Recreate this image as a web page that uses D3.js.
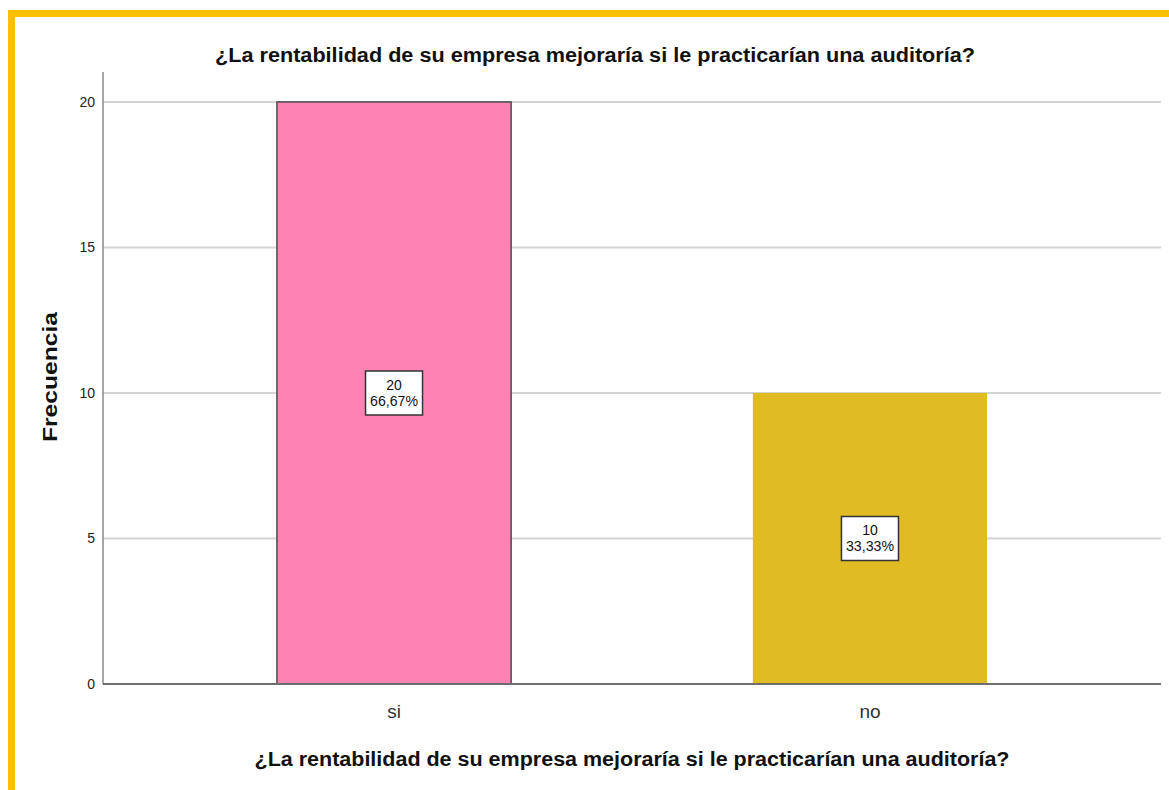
<!DOCTYPE html>
<html>
<head>
<meta charset="utf-8">
<script src="https://cdn.jsdelivr.net/npm/d3@7"></script>
<style>
  html, body { margin: 0; padding: 0; background: #fff; }
  svg { display: block; }
  text { font-family: "Liberation Sans", Arial, sans-serif; }
</style>
</head>
<body>
<svg id="chart" width="1169" height="790"></svg>
<script>
// Survey answers and their frequencies
const categories = ["si", "no"];
const counts = [20, 10];
const percentLabels = ["66,67%", "33,33%"];
const barColors = ["#FF82B4", "#E0BB22"];
const yTicks = [0, 5, 10, 15, 20];
const chartTitle = "¿La rentabilidad de su empresa mejoraría si le practicarían una auditoría?";
const xTitle = "¿La rentabilidad de su empresa mejoraría si le practicarían una auditoría?";
const yTitle = "Frecuencia";

const svg = d3.select("#chart");
const W = 1169, H = 790;

// Frame: orange-yellow band along top and left edges
svg.append("rect").attr("x", 8).attr("y", 10).attr("width", W - 8).attr("height", 7).attr("fill", "#FFC000");
svg.append("rect").attr("x", 8).attr("y", 10).attr("width", 7).attr("height", H - 10).attr("fill", "#FFC000");

const plot = { left: 103, right: 1161, top: 72, bottom: 684 };

const x = d3.scaleBand()
  .domain(categories)
  .range([plot.left, plot.right])
  .paddingInner(0.508)
  .paddingOuter(0.3655);

const y = d3.scaleLinear()
  .domain([0, 21.03])
  .range([plot.bottom, plot.top]);

// Horizontal gridlines
svg.append("g")
  .selectAll("line")
  .data(yTicks.filter(d => d > 0))
  .join("line")
  .attr("x1", plot.left).attr("x2", plot.right)
  .attr("y1", d => y(d)).attr("y2", d => y(d))
  .attr("stroke", "#d4d4d4").attr("stroke-width", 2);

// Y axis
const yAxis = svg.append("g")
  .attr("transform", `translate(${plot.left},0)`)
  .call(d3.axisLeft(y).tickValues(yTicks).tickSize(0).tickPadding(8).tickFormat(d3.format("d")));
yAxis.select(".domain").remove();
yAxis.selectAll("text")
  .attr("font-size", 14).attr("fill", "#222")
  .attr("font-family", "Liberation Sans, Arial, sans-serif");
svg.append("line")
  .attr("x1", plot.left).attr("x2", plot.left)
  .attr("y1", plot.top).attr("y2", plot.bottom)
  .attr("stroke", "#8a8a8a").attr("stroke-width", 1.5);

// Bars
const data = categories.map((c, i) => ({ cat: c, n: counts[i], pct: percentLabels[i], color: barColors[i] }));

svg.append("g")
  .selectAll("rect")
  .data(data)
  .join("rect")
  .attr("x", d => x(d.cat))
  .attr("y", d => y(d.n))
  .attr("width", x.bandwidth())
  .attr("height", d => y(0) - y(d.n))
  .attr("fill", d => d.color)
  .attr("stroke", (d, i) => i === 0 ? "#4a4a4a" : "none")
  .attr("stroke-width", 1.5);

// Baseline
svg.append("line")
  .attr("x1", plot.left).attr("x2", plot.right)
  .attr("y1", plot.bottom).attr("y2", plot.bottom)
  .attr("stroke", "#6e6e6e").attr("stroke-width", 2);

// Value boxes at bar mid-height
const boxW = 57, boxH = 44;
const labels = svg.append("g")
  .selectAll("g")
  .data(data)
  .join("g")
  .attr("transform", d => `translate(${x(d.cat) + x.bandwidth() / 2},${y(d.n / 2)})`);
labels.append("rect")
  .attr("x", -boxW / 2).attr("y", -boxH / 2)
  .attr("width", boxW).attr("height", boxH)
  .attr("fill", "#fff").attr("stroke", "#333").attr("stroke-width", 1.5);
labels.append("text")
  .attr("text-anchor", "middle").attr("y", -3)
  .attr("font-size", 14).attr("fill", "#111")
  .text(d => d.n);
labels.append("text")
  .attr("text-anchor", "middle").attr("y", 13)
  .attr("font-size", 14).attr("fill", "#111")
  .attr("textLength", 48).attr("lengthAdjust", "spacingAndGlyphs")
  .text(d => d.pct);

// Category labels
svg.append("g")
  .selectAll("text")
  .data(categories)
  .join("text")
  .attr("x", d => x(d) + x.bandwidth() / 2)
  .attr("y", 718)
  .attr("text-anchor", "middle")
  .attr("font-size", 19).attr("fill", "#333")
  .text(d => d);

// Titles
svg.append("text")
  .attr("x", 595).attr("y", 62)
  .attr("text-anchor", "middle")
  .attr("font-size", 20).attr("font-weight", "bold").attr("fill", "#111")
  .attr("textLength", 760).attr("lengthAdjust", "spacingAndGlyphs")
  .text(chartTitle);

svg.append("text")
  .attr("x", 632).attr("y", 766)
  .attr("text-anchor", "middle")
  .attr("font-size", 20).attr("font-weight", "bold").attr("fill", "#111")
  .attr("textLength", 755).attr("lengthAdjust", "spacingAndGlyphs")
  .text(xTitle);

svg.append("text")
  .attr("transform", "translate(57,377) rotate(-90)")
  .attr("text-anchor", "middle")
  .attr("font-size", 21).attr("font-weight", "bold").attr("fill", "#111")
  .attr("textLength", 130).attr("lengthAdjust", "spacingAndGlyphs")
  .text(yTitle);
</script>
</body>
</html>
